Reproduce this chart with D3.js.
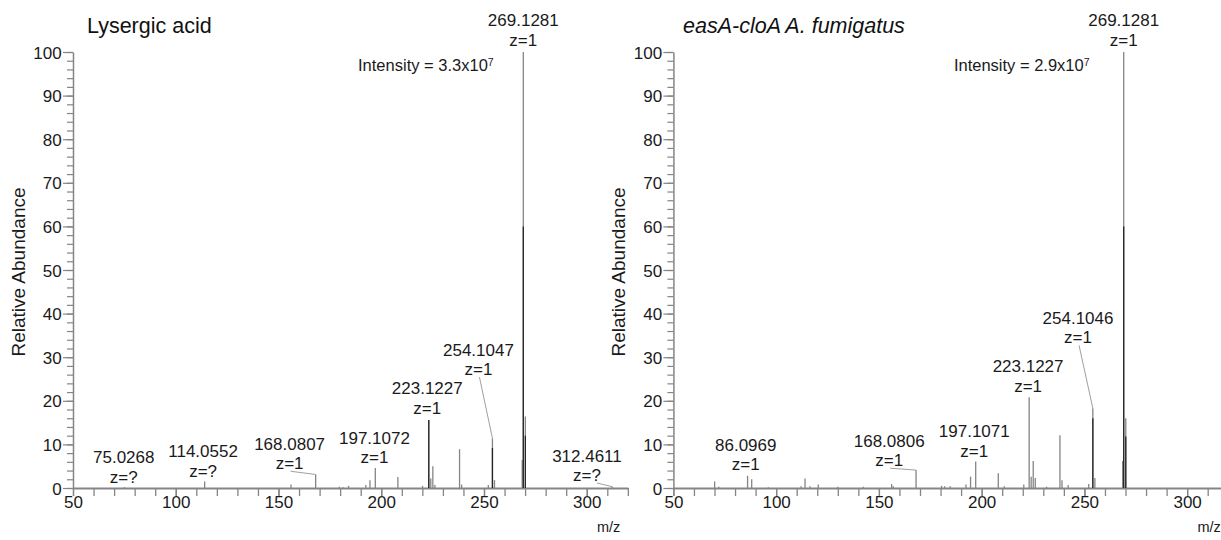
<!DOCTYPE html>
<html><head><meta charset="utf-8">
<script src="https://cdn.jsdelivr.net/npm/d3@7"></script>
<style>
html,body{margin:0;padding:0;background:#fff;}
svg{display:block;font-family:"Liberation Sans",Arial,Helvetica,sans-serif;}
</style></head><body>
<svg id="chart" width="1221" height="540"></svg>
<script>
// ---------------- data ----------------
const leftTitle = "Lysergic acid";
const rightTitle = "easA-cloA A. fumigatus";
const leftIntensityText = ["Intensity = 3.3x10", "7"];
const rightIntensityText = ["Intensity = 2.9x10", "7"];

const leftMz  = [75.0268, 114.0552, 156.1, 168.0807, 179.6, 181.5, 184.1, 192.5, 194.5, 197.1072, 208.1, 220.1, 223.1227, 224.1, 225.1, 226.1, 238.1, 239.1, 252.1, 254.1047, 255.1, 268.6, 269.1281, 270.13, 312.4611];
const leftInt = [0.2, 1.5, 0.8, 3.1, 0.3, 0.2, 0.5, 0.7, 1.8, 4.6, 2.5, 0.5, 15.6, 2.2, 5.0, 0.7, 8.9, 0.8, 0.7, 11.4, 1.8, 6.4, 100, 16.4, 0.3];
const leftDarkMz  = [223.1227, 254.1047, 269.1281, 270.13];
const leftDarkInt = [15.6, 9.2, 60, 12];

const rightMz  = [70.07, 72.1, 86.0969, 88.1, 96.2, 112.1, 114.05, 116.5, 120.5, 130.0, 142.4, 156.2, 157.0, 168.0806, 180.5, 182.0, 184.7, 192.4, 194.6, 197.1071, 208.1, 211.0, 220.5, 223.1227, 224.1, 225.1, 226.1, 231.6, 238.1, 239.1, 242.1, 252.1, 254.1046, 255.1, 268.6, 269.1281, 270.13];
const rightInt = [1.5, 0.3, 2.8, 2.0, 0.2, 0.4, 2.2, 0.4, 0.8, 0.3, 0.3, 0.9, 0.4, 4.1, 0.5, 0.4, 0.4, 0.8, 2.6, 6.1, 3.4, 0.4, 0.8, 20.8, 2.6, 6.2, 2.3, 0.3, 12.1, 1.8, 0.7, 0.9, 18.3, 2.3, 6.2, 100, 16.0];
const rightDarkMz  = [254.1046, 269.1281, 270.13];
const rightDarkInt = [16, 60, 11.8];

// peak annotations: label text, charge text, annotated peak
const leftLabels  = ["75.0268", "114.0552", "168.0807", "197.1072", "223.1227", "254.1047", "269.1281", "312.4611"];
const leftCharges = ["z=?", "z=?", "z=1", "z=1", "z=1", "z=1", "z=1", "z=?"];
const leftLabelPeakInt = [0.2, 1.5, 3.1, 4.6, 15.6, 11.4, 100, 0.3];
const rightLabels  = ["86.0969", "168.0806", "197.1071", "223.1227", "254.1046", "269.1281"];
const rightCharges = ["z=1", "z=1", "z=1", "z=1", "z=1", "z=1"];
const rightLabelPeakInt = [2.8, 4.1, 6.1, 20.8, 18.3, 100];

const xTickLabels = [50, 100, 150, 200, 250, 300];
const yTickLabels = [0, 10, 20, 30, 40, 50, 60, 70, 80, 90, 100];
const yAxisTitle = "Relative Abundance";
const xAxisTitle = "m/z";

// ---------------- layout (positions in data units, offsets in px) ----------------
const leftLabelAnchor = { // [m/z of label centre, abundance of z-line baseline]
  mz:  [74.7, 113.3, 155.4, 196.7, 222.4, 247.3, 269.1281, 300.1],
  ab:  [1.26, 2.6, 4.3, 5.7, 17.0, 25.9, 101.4, 1.6],
  leader: [false, false, true, false, false, true, false, true],
  leaderDx: [0, 0, 1, 0, 0, 1, 0, 10]
};
const rightLabelAnchor = {
  mz:  [85.2, 155.0, 196.4, 222.6, 246.9, 269.1281],
  ab:  [4.1, 5.0, 7.2, 22.1, 33.2, 101.4],
  leader: [false, true, false, false, true, false],
  leaderDx: [0, 1, 0, 0, 1, 0]
};

const svg = d3.select("#chart");
const Y = d3.scaleLinear().domain([0, 100]).range([488, 52]);

function panel(cfg) {
  const x = d3.scaleLinear().domain([50, 320]).range([cfg.x0, cfg.x0 + 270 * 2.055]);
  const g = svg.append("g");

  // x axis minor ticks
  const xMinor = d3.axisBottom(x).tickValues(d3.range(50, 321, 10)).tickSize(8).tickSizeOuter(0).tickFormat("");
  const gx = g.append("g").attr("transform", `translate(0,${Y(0)})`).call(xMinor);
  gx.select(".domain").attr("stroke", "#858585").attr("stroke-width", 2.2);
  gx.selectAll(".tick line").attr("stroke", "#858585").attr("stroke-width", 1.3);
  // x axis labels
  const xMajor = d3.axisBottom(x).tickValues(xTickLabels).tickSize(8).tickPadding(0).tickSizeOuter(0);
  const gx2 = g.append("g").attr("transform", `translate(0,${Y(0)})`).call(xMajor);
  gx2.select(".domain").remove();
  gx2.selectAll(".tick line").attr("stroke", "#858585").attr("stroke-width", 1.3);
  gx2.selectAll(".tick text").attr("font-size", "17px").attr("fill", "#1a1a1a")
     .attr("font-family", '"Liberation Sans",Arial,sans-serif');

  // y axis
  const yMinor = d3.axisLeft(Y).tickValues(d3.range(0, 101, 2)).tickSize(6).tickSizeOuter(0).tickFormat("");
  const gy = g.append("g").attr("transform", `translate(${x(50)},0)`).call(yMinor);
  gy.select(".domain").attr("stroke", "#858585").attr("stroke-width", 1.5);
  gy.selectAll(".tick line").attr("stroke", "#858585").attr("stroke-width", 1.2);
  const yMajor = d3.axisLeft(Y).tickValues(yTickLabels).tickSize(10).tickPadding(1.3).tickSizeOuter(0);
  const gy2 = g.append("g").attr("transform", `translate(${x(50)},0)`).call(yMajor);
  gy2.select(".domain").remove();
  gy2.selectAll(".tick line").attr("stroke", "#858585").attr("stroke-width", 1.2);
  gy2.selectAll(".tick text").attr("font-size", "17px").attr("fill", "#1a1a1a").attr("dy", "0.36em")
     .attr("font-family", '"Liberation Sans",Arial,sans-serif');

  // sticks
  const sticks = cfg.mz.map((m, i) => ({ m, v: cfg.int[i] }));
  g.append("g").selectAll("line").data(sticks).join("line")
    .attr("x1", d => x(d.m)).attr("x2", d => x(d.m))
    .attr("y1", Y(0)).attr("y2", d => Y(d.v))
    .attr("stroke", "#858585").attr("stroke-width", 1.3);
  const dark = cfg.darkMz.map((m, i) => ({ m, v: cfg.darkInt[i] }));
  g.append("g").selectAll("line").data(dark).join("line")
    .attr("x1", d => x(d.m)).attr("x2", d => x(d.m))
    .attr("y1", Y(0)).attr("y2", d => Y(d.v))
    .attr("stroke", "#262626").attr("stroke-width", 1.3);

  // annotations
  const ann = cfg.labels.map((t, i) => ({
    t, z: cfg.charges[i], peakMz: parseFloat(t), peakInt: cfg.labelPeakInt[i],
    ax: cfg.anchor.mz[i], ab: cfg.anchor.ab[i], leader: cfg.anchor.leader[i], ldx: cfg.anchor.leaderDx[i]
  }));
  const ga = g.append("g");
  ga.selectAll("line.leader").data(ann.filter(d => d.leader)).join("line").attr("class", "leader")
    .attr("x1", d => x(d.ax) + d.ldx).attr("y1", d => Y(d.ab) + 2)
    .attr("x2", d => x(d.peakMz)).attr("y2", d => Y(d.peakInt))
    .attr("stroke", "#a0a0a0").attr("stroke-width", 1);
  ga.selectAll("text.num").data(ann).join("text").attr("class", "num")
    .attr("x", d => x(d.ax)).attr("y", d => Y(d.ab) - 19.5)
    .attr("text-anchor", "middle").attr("font-size", "17px").attr("fill", "#1a1a1a").text(d => d.t);
  ga.selectAll("text.z").data(ann).join("text").attr("class", "z")
    .attr("x", d => x(d.ax)).attr("y", d => Y(d.ab))
    .attr("text-anchor", "middle").attr("font-size", "17px").attr("fill", "#1a1a1a").text(d => d.z);

  // intensity
  const it = g.append("text").attr("x", x(cfg.intPos[0])).attr("y", Y(cfg.intPos[1]))
    .attr("font-size", "16.5px").attr("fill", "#1a1a1a");
  it.append("tspan").text(cfg.intText[0]);
  it.append("tspan").attr("dy", "-0.45em").attr("font-size", "10.5px").text(cfg.intText[1]);

  // titles
  const tt = g.append("text").attr("x", cfg.titleX).attr("y", 33).attr("font-size", "21.5px").attr("fill", "#111").text(cfg.title);
  if (cfg.italic) tt.attr("font-style", "italic");

  // axis titles
  g.append("text").attr("transform", `translate(${cfg.x0 - 48},${(Y(0) + Y(100)) / 2 + 2}) rotate(-90)`)
    .attr("text-anchor", "middle").attr("font-size", "19px").attr("fill", "#1a1a1a").text(yAxisTitle);
  g.append("text").attr("x", x(305)).attr("y", 532).attr("font-size", "14.5px").attr("fill", "#1a1a1a").text(xAxisTitle);
}

panel({
  x0: 73, mz: leftMz, int: leftInt, darkMz: leftDarkMz, darkInt: leftDarkInt,
  labels: leftLabels, charges: leftCharges, labelPeakInt: leftLabelPeakInt, anchor: leftLabelAnchor,
  intText: leftIntensityText, intPos: [188.7, 95.7], title: leftTitle, titleX: 87, italic: false
});
panel({
  x0: 673.4, mz: rightMz, int: rightInt, darkMz: rightDarkMz, darkInt: rightDarkInt,
  labels: rightLabels, charges: rightCharges, labelPeakInt: rightLabelPeakInt, anchor: rightLabelAnchor,
  intText: rightIntensityText, intPos: [186.5, 95.7], title: rightTitle, titleX: 683, italic: true
});
</script>
</body></html>
